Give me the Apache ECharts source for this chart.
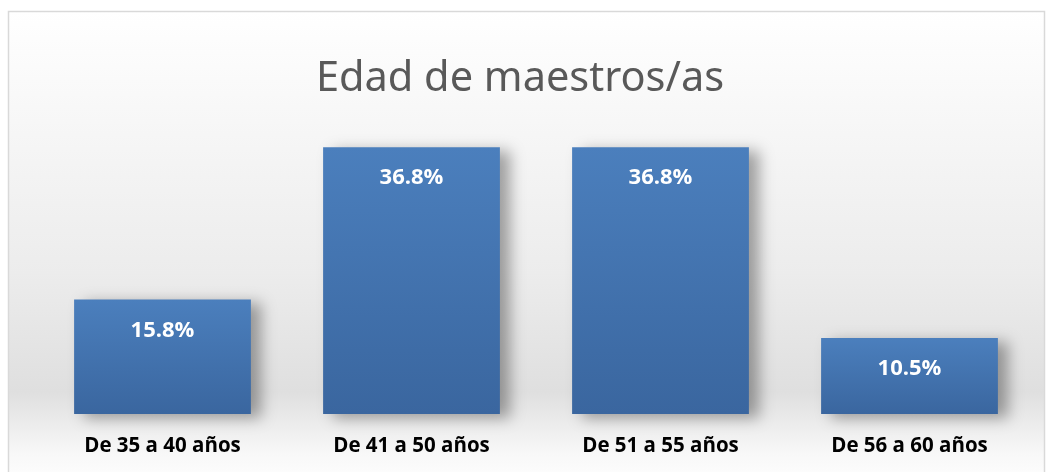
<!DOCTYPE html>
<html><head><meta charset="utf-8">
<script src="https://cdn.jsdelivr.net/npm/echarts@6/dist/echarts.min.js"></script>
<style>html,body{margin:0;padding:0;background:#fff}#c{width:1050px;height:472px}</style>
</head><body><div id="c"></div>
<script>
const categories = ['De 35 a 40 años', 'De 41 a 50 años', 'De 51 a 55 años', 'De 56 a 60 años'];
const values = [15.8, 36.8, 36.8, 10.5];
const titleText = 'Edad de maestros/as';

const chart = echarts.init(document.getElementById('c'));
chart.setOption({
  animation: false,
  backgroundColor: '#ffffff',
  graphic: [{
    type: 'rect', z: -10, silent: true,
    shape: { x: 8.5, y: 11.5, width: 1036, height: 475 },
    style: {
      fill: new echarts.graphic.LinearGradient(0, 0, 0, 1, [
        { offset: 0, color: '#ffffff' },
        { offset: 0.55, color: '#ececec' },
        { offset: 0.8, color: '#dfdfdf' },
        { offset: 0.93, color: '#f8f8f8' },
        { offset: 1, color: '#ffffff' }
      ]),
      stroke: '#d9d9d9', lineWidth: 1.5
    }
  }],
  title: {
    text: titleText, left: 515, textAlign: 'center', top: 53,
    textStyle: { fontFamily: 'Noto Sans', fontWeight: 'normal', fontSize: 41.5, color: '#595959' }
  },
  grid: { left: 38, right: 16, top: 124, bottom: 58 },
  xAxis: {
    type: 'category', data: categories,
    axisLine: { show: false }, axisTick: { show: false },
    axisLabel: { margin: 22, fontFamily: 'Open Sans', fontWeight: 'bold', fontSize: 20.5, color: '#000' }
  },
  yAxis: { type: 'value', min: 0, max: 40, show: false, splitLine: { show: false } },
  series: [{
    type: 'bar', data: values, barCategoryGap: '29%',
    itemStyle: {
      color: new echarts.graphic.LinearGradient(0, 0, 0, 1, [
        { offset: 0, color: '#4b7fbd' },
        { offset: 1, color: '#3a669f' }
      ]),
      shadowColor: 'rgba(0,0,0,0.35)', shadowBlur: 14, shadowOffsetX: 10, shadowOffsetY: 4
    },
    label: {
      show: true, position: 'insideTop', distance: 20,
      formatter: p => p.value.toFixed(1) + '%',
      fontFamily: 'Open Sans', fontWeight: 'bold', fontSize: 22, color: '#ffffff'
    }
  }]
});
</script></body></html>
